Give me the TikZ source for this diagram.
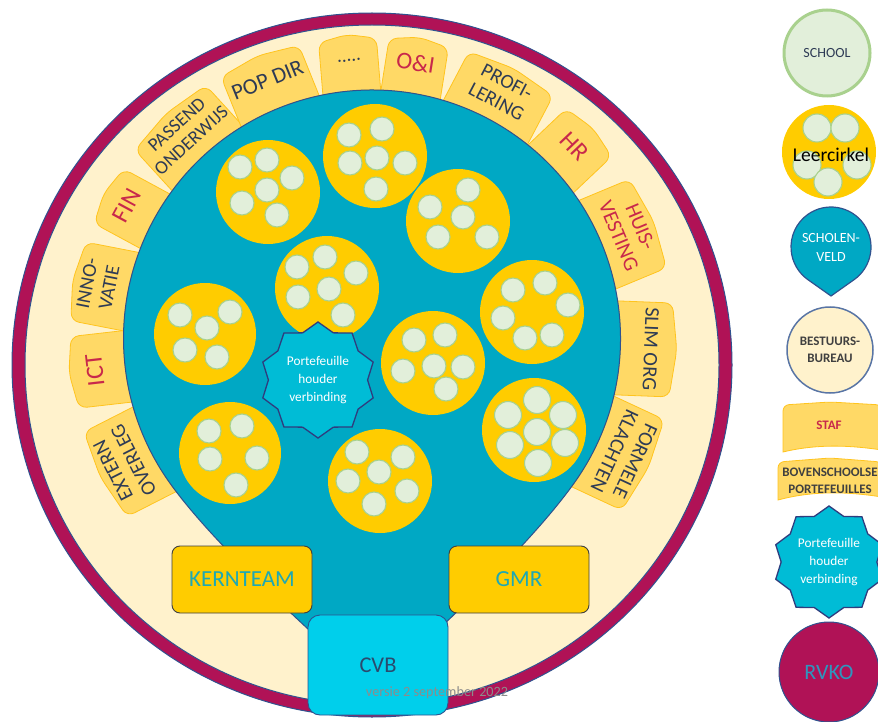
\documentclass[tikz,border=0pt]{standalone}
\usepackage{fontspec}
\setmainfont{Carlito}
\usetikzlibrary{shapes.geometric,calc}

\definecolor{rvko}{RGB}{176,18,86}
\definecolor{rand}{RGB}{47,82,143}
\definecolor{creme}{RGB}{255,242,204}
\definecolor{tabgeel}{RGB}{255,217,102}
\definecolor{tabrand}{RGB}{255,196,30}
\definecolor{veld}{RGB}{0,168,196}
\definecolor{leergeel}{RGB}{255,204,0}
\definecolor{school}{RGB}{226,239,218}
\definecolor{schoolrand}{RGB}{169,209,142}
\definecolor{sterblauw}{RGB}{0,188,214}
\definecolor{sterrand}{RGB}{47,60,126}
\definecolor{cvbblauw}{RGB}{0,207,235}
\definecolor{tekstblauw}{RGB}{46,59,85}
\definecolor{tekstrood}{RGB}{200,40,75}
\definecolor{tekstteal}{RGB}{30,168,180}
\definecolor{tekstcvb}{RGB}{42,74,110}
\definecolor{tekstgrijs}{RGB}{64,64,64}
\definecolor{versiegrijs}{RGB}{140,140,140}
\definecolor{rvkotekst}{RGB}{46,150,190}

\newcommand{\fsz}[1]{\fontsize{#1pt}{#1pt}\selectfont}

% tab round the scholenveld: name, angle, width, colour, size, text
\newcommand{\ringtab}[6]{%
  \begin{scope}[shift={(tc)}, rotate={#2-90}]
    \filldraw[ringtabvorm] ({90+asin(#3/497)}:248.5) arc[start angle={90+asin(#3/497)}, end angle={90-asin(#3/497)}, radius=248.5]
      [rounded corners=8pt] -- ({#3/2},299) -- (0,305) -- ({-#3/2},299) [sharp corners] -- cycle;
    \node[tabtext, text=#4, font=\linespread{1.12}\fsz{#5}] (#1) at (0,279) {#6};
  \end{scope}}

% leercirkel with schools: name, centre, size, school size, offsets
\newcommand{\leercirkel}[5]{%
  \node[leer, minimum size=#3] (#1) at (#2) {};
  \foreach \dx/\dy [count=\i] in {#5}
    \node[kring, minimum size=#4] (#1-\i) at ($(#1)+(\dx,\dy)$) {};}

\begin{document}
\begin{tikzpicture}[x=1pt, y=1pt,
    ringtabvorm/.style={fill=tabgeel, draw=tabrand, line width=0.8pt},
    tabtext/.style={align=center, inner sep=0pt, transform shape},
    leer/.style={circle, fill=leergeel, inner sep=0pt},
    kring/.style={circle, fill=school, draw=schoolrand, line width=1.1pt, inner sep=0pt},
    blok/.style={rectangle, rounded corners=8pt, fill=leergeel, draw=tekstgrijs, line width=0.9pt,
      minimum width=140pt, minimum height=67pt, text=tekstteal, font=\fsz{23}},
    phster/.style={star, star points=10, star point ratio=1.17, fill=sterblauw, draw=sterrand,
      line width=1.3pt, inner sep=0pt, align=center, text=white, font=\fontsize{13.3pt}{18pt}\selectfont}]

  \useasboundingbox (0,0) rectangle (878,-722);

  \coordinate (rc) at (372,-365);
  \coordinate (tc) at (372,-338.5);
  \coordinate (punt) at (374,-689);

  % RVKO ring and bestuursbureau
  \filldraw[fill=rvko, draw=rand, line width=1pt] (rc) ellipse[x radius=360, y radius=352];
  \filldraw[fill=creme, draw=rand, line width=1pt] (rc) ellipse[x radius=347, y radius=340];

  % staf and bovenschoolse portefeuilles
  \ringtab{extern}{207}{95}{tekstblauw}{20.5}{EXTERN\\OVERLEG}
  \ringtab{ict}{186.5}{72}{tekstrood}{25}{ICT}
  \ringtab{innovatie}{169}{80}{tekstblauw}{20}{INNO-\\VATIE}
  \ringtab{fin}{151.6}{62}{tekstrood}{25}{FIN}
  \ringtab{passend}{132.4}{96}{tekstblauw}{19}{PASSEND\\ONDERWIJS}
  \ringtab{popdir}{112}{84}{tekstblauw}{22.5}{POP DIR}
  \ringtab{puntjes}{94.7}{58}{tekstblauw}{19}{.....}
  \ringtab{oi}{81}{60}{tekstrood}{24}{O\&I}
  \ringtab{profilering}{62.3}{95}{tekstblauw}{20}{PROFI-\\LERING}
  \ringtab{hr}{43.5}{66}{tekstrood}{25}{HR}
  \ringtab{huisvesting}{22.6}{96}{tekstrood}{21}{HUIS-\\VESTING}
  \ringtab{slimorg}{-2.2}{94}{tekstblauw}{20.5}{SLIM ORG}
  \ringtab{formele}{-25}{100}{tekstblauw}{20.5}{FORMELE\\KLACHTEN}

  % scholenveld
  \filldraw[fill=veld, draw=rand, line width=1pt] (punt) .. controls +(42:70) and +(-125:80) .. ($(tc)+(-35:248.5)$)
    arc[start angle=-35, end angle=215, radius=248.5] .. controls +(-55:80) and +(138:70) .. (punt) -- cycle;

  \leercirkel{lc1}{268,-192}{104pt}{24pt}{-28/25, -1/32, 24/14, -1/2, -26/-11, 9/-23}
  \leercirkel{lc2}{375,-156}{104pt}{24pt}{-26/21, 7/27, -25/-7, 2/-2, 30/-7, 1/-33}
  \leercirkel{lc3}{458,-221}{104pt}{24pt}{10/31, -28/14, 5/4, -20/-16, 29/-16}
  \leercirkel{lc4}{532,-312}{104pt}{24pt}{-19/22, 13/29, 36/7, -29/-6, -7/-26, 20/-23}
  \leercirkel{lc5}{327,-288}{104pt}{24pt}{-30/21, -2/31, 29/15, -29/-9, 2/-1, 16/-27}
  \leercirkel{lc6}{205,-334}{102pt}{24pt}{-25/19, 25/22, 2/6, -20/-16, 12/-23}
  \leercirkel{lc7}{433,-363}{104pt}{24pt}{-19/23, 12/28, -30/-8, 1/-3, 30/-4, 13/-26}
  \leercirkel{lc8}{534,-430}{104pt}{27pt}{3/30, -26/15, 29/15, 3/-2, -24/-15, 31/-13, 4/-33}
  \leercirkel{lc9}{230,-453}{102pt}{24pt}{-21/22, 12/27, -20/-6, 27/-5, 6/-32}
  \leercirkel{lc10}{380,-481}{104pt}{24pt}{-23/29, 23/24, -1/9, -32/0, 27/-10, -6/-23}

  \node[phster, minimum size=116pt] (ph) at (318,-380) {Portefeuille\\houder\\verbinding};

  \node[blok] (kernteam) at (242,-579.5) {KERNTEAM};
  \node[blok] (gmr) at (519,-579.5) {GMR};
  \node[rectangle, rounded corners=12pt, fill=cvbblauw, draw=rand, line width=0.9pt, minimum width=140pt,
    minimum height=100pt, text=tekstcvb, font=\fsz{22.5}] (cvb) at (378,-665) {CVB};
  \node[text=versiegrijs, font=\fsz{14.2}, inner sep=0pt] (versie) at (437,-693) {versie 2 september 2022};

  % legenda
  \node[circle, fill=school, draw=schoolrand, line width=3pt, minimum size=86pt, inner sep=0pt,
    text=tekstblauw, font=\fsz{14}] (school) at (827,-53) {SCHOOL};
  \leercirkel{legleer}{829,-152}{94pt}{28pt}{-12/24, 16/24, -22/-13, 28/-13, -1/-30}
  \node[font=\fsz{19.5}, inner sep=0pt] (leertekst) at (831,-155) {Leercirkel};

  \coordinate (svc) at (831,-247);
  \coordinate (svpunt) at (831,-296);
  \filldraw[fill=veld, draw=rand, line width=1.2pt] (svpunt) -- ($(svc)+(-54.7:40)$)
    arc[start angle=-54.7, end angle=234.7, radius=40] -- (svpunt) -- cycle;
  \node[text=white, align=center, font=\fontsize{14pt}{19pt}\selectfont] (scholenveld) at (831,-247) {SCHOLEN-\\VELD};

  \node[circle, fill=creme, draw=rand!80!white, line width=1.5pt, minimum size=86pt, inner sep=0pt, align=center,
    text=tekstgrijs, font=\bfseries\fontsize{13pt}{17pt}\selectfont] (bureau) at (830,-350) {BESTUURS-\\BUREAU};

  \filldraw[ringtabvorm] (783,-452) [rounded corners=6pt] -- (783,-405) -- (830,-402) -- (882,-405) [sharp corners]
    -- (882,-450) .. controls (855,-446) and (820,-443) .. (783,-452) -- cycle;
  \node[text=tekstrood, font=\bfseries\fsz{13}] (staf) at (829,-425) {STAF};

  \filldraw[ringtabvorm] (778,-500) [rounded corners=6pt] -- (778,-462) -- (830,-458) -- (882,-462) [sharp corners]
    -- (882,-497) .. controls (850,-492) and (815,-490) .. (778,-500) -- cycle;
  \node[text=tekstgrijs, align=center, font=\bfseries\fontsize{13pt}{17pt}\selectfont] (boven) at (830,-481) {BOVENSCHOOLSE\\PORTEFEUILLES};

  \node[phster, minimum size=112pt] (legster) at (829,-562) {Portefeuille\\houder\\verbinding};

  \node[circle, fill=rvko, draw=rand, line width=1pt, minimum size=100pt, inner sep=0pt,
    text=rvkotekst, font=\fsz{22}] (rvko) at (829,-672) {RVKO};
\end{tikzpicture}
\end{document}
